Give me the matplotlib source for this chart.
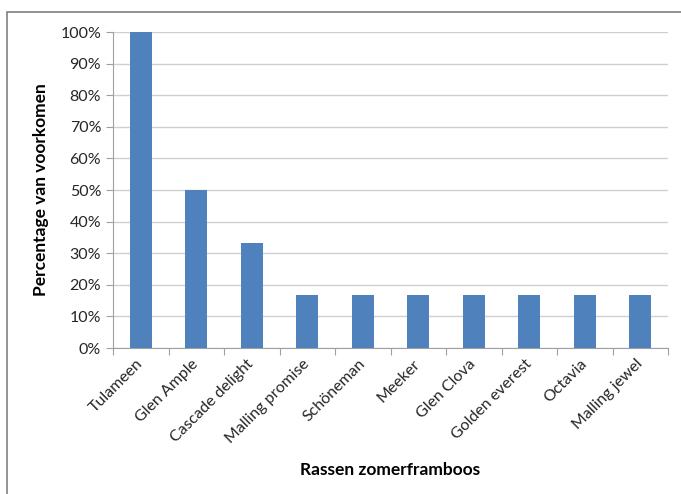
import matplotlib.pyplot as plt
from matplotlib.patches import Rectangle
from matplotlib.ticker import PercentFormatter

# gegevens
rassen = ["Tulameen", "Glen Ample", "Cascade delight", "Malling promise",
          "Schöneman", "Meeker", "Glen Clova", "Golden everest",
          "Octavia", "Malling jewel"]
percentages = [1.0, 0.5, 0.333, 0.1667, 0.1667, 0.1667, 0.1667, 0.1667, 0.1667, 0.1667]

plt.rcParams['font.family'] = ['Lato', 'DejaVu Sans']

fig = plt.figure(figsize=(6.81, 4.94), dpi=100)
ax = fig.add_axes([113/681, 1 - 348/494, (668 - 113)/681, (348 - 32)/494])

x = range(len(rassen))
ax.bar(x, percentages, width=0.4, color='#4F81BD', zorder=3)

ax.set_xlim(-0.5, len(rassen) - 0.5)
ax.set_ylim(0, 1)
ax.set_yticks([i / 10 for i in range(11)])
ax.yaxis.set_major_formatter(PercentFormatter(1.0, decimals=0))
ax.grid(axis='y', color='#D0D0D0', linewidth=1, zorder=0)

# x-as tickmarks tussen de categorieën
ax.set_xticks([i - 0.5 for i in range(len(rassen) + 1)])
ax.set_xticklabels([])
ax.set_xticks(list(x), minor=True)
ax.set_xticklabels(rassen, minor=True, rotation=45, ha='right', va='center',
                   rotation_mode='anchor', fontsize=11.5, color='#262626')
ax.tick_params(axis='x', which='minor', length=0, pad=10)
ax.tick_params(axis='x', which='major', length=5, color='#A0A0A0')
ax.tick_params(axis='y', length=5, color='#A0A0A0', labelsize=11.5, labelcolor='#262626')

for side in ['top', 'right']:
    ax.spines[side].set_visible(False)
for side in ['left', 'bottom']:
    ax.spines[side].set_color('#A0A0A0')

ax.set_ylabel('Percentage van voorkomen', fontsize=12.5, fontweight='bold', labelpad=8)
fig.text((113 + 668) / 2 / 681, 1 - 470 / 494, 'Rassen zomerframboos',
         fontsize=12.5, fontweight='bold', ha='center', va='center')

# kader rond de grafiek
fig.patches.append(Rectangle((7/681, -0.1), 1.1, 1 - 12/494 + 0.1,
                             transform=fig.transFigure, fill=False,
                             edgecolor='#808080', linewidth=1.2))

plt.savefig('out.png', dpi=100)
